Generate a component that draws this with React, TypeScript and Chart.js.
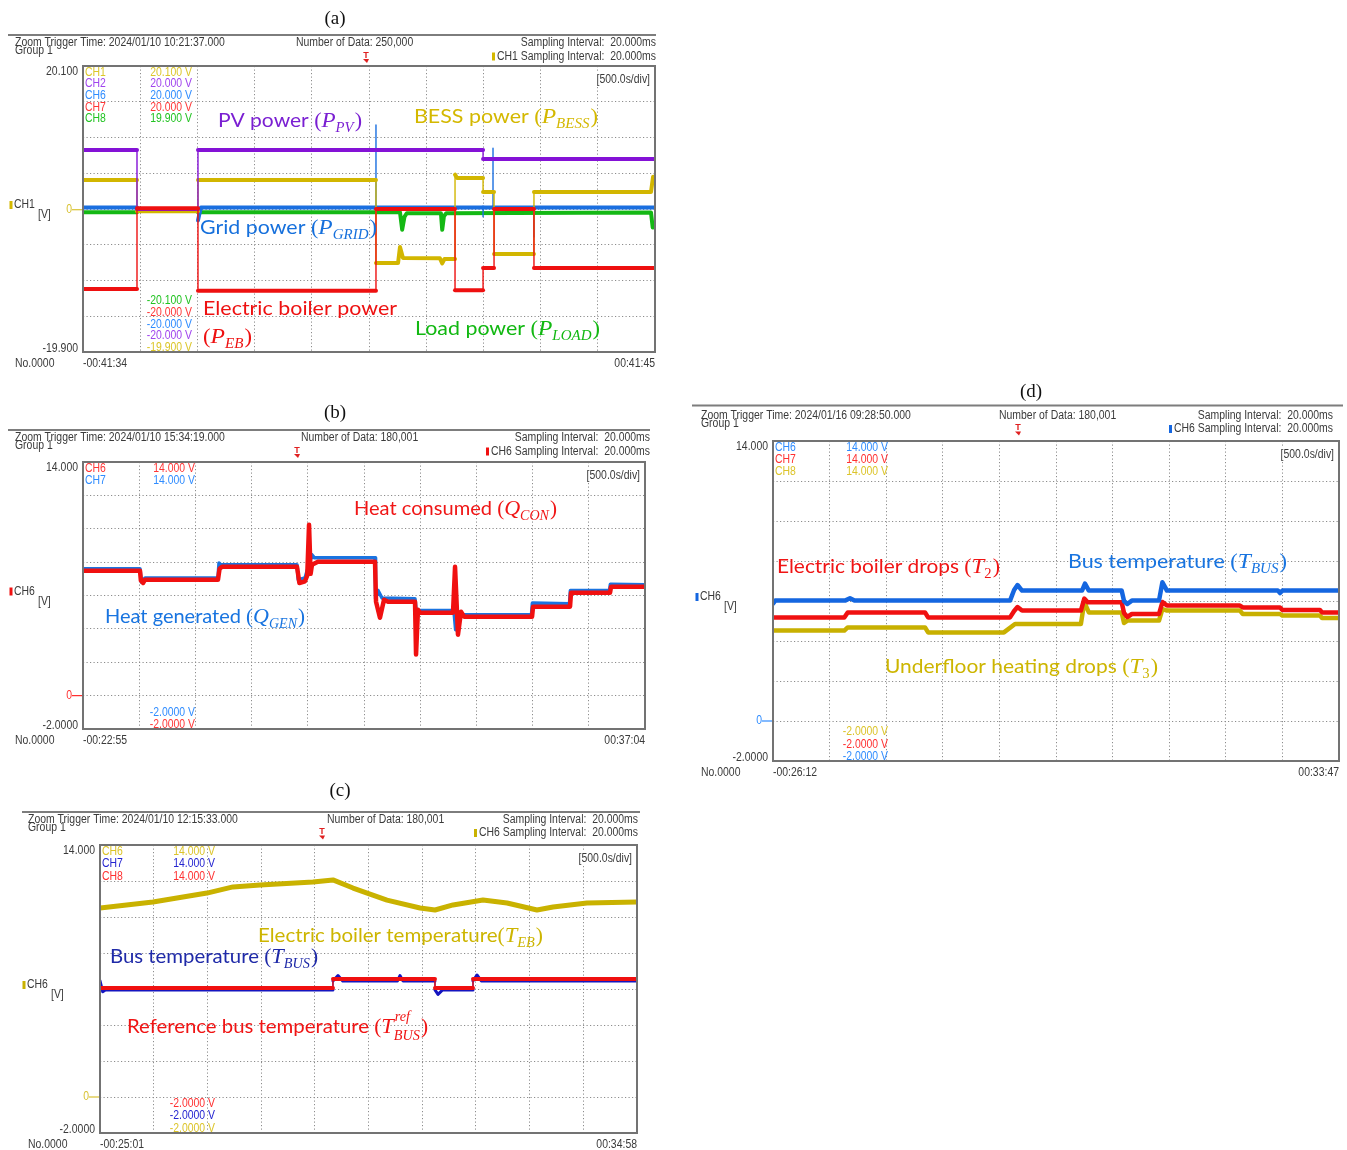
import { useEffect, useRef } from 'react';
import { Chart, registerables } from 'chart.js';

Chart.register(...registerables);

const PAGE_W = 1347;
const PAGE_H = 1150;
const DIV_SECONDS = 500;
const DIVS = 10;
const SPAN = DIV_SECONDS * DIVS;

// ---------- (a) power flows [V], time in s from the left edge ----------
const aPvTime = [0, 472, 472, 1005, 1005, 3497, 3497, 5000];
const aPvPower = [8.35, 8.35, 0.1, 0.1, 8.35, 8.35, 7.1, 7.1];

const aBessTime = [0, 472, 472, 1005, 1005, 2561, 2561, 2754, 2771, 2797, 3120, 3140, 3160, 3252, 3252, 3270, 3497, 3497, 3593, 3593, 3942, 3942, 4965, 4983, 5000];
const aBessPower = [4.16, 4.16, -0.2, -0.2, 4.16, 4.16, -7.45, -7.45, -5.2, -6.75, -6.8, -7.5, -6.9, -6.9, 4.9, 4.44, 4.44, 2.48, 2.48, -6.2, -6.2, 2.48, 2.48, 4.6, 4.6];

const aGridTime = [0, 472, 472, 1005, 1005, 1030, 1060, 2561, 2561, 2561, 3497, 3497, 3497, 3584, 3584, 3584, 3942, 3942, 3942, 5000];
const aGridPower = [0.3, 0.3, 0.05, 0.05, -1.5, 0.3, 0.3, 0.3, 11.85, 0.3, 0.3, -1.0, 0.3, 0.3, 8.6, 0.3, 0.3, -3.8, 0.3, 0.3];

const aLoadTime = [0, 472, 472, 1005, 1005, 2771, 2790, 2810, 2830, 3129, 3140, 3155, 3175, 4965, 4980, 5000];
const aLoadPower = [-0.35, -0.35, 0.0, 0.0, -0.35, -0.35, -2.8, -1.0, -0.5, -0.5, -2.8, -0.9, -0.5, -0.4, -2.5, -2.4];

const aEbTime = [0, 472, 472, 1005, 1005, 2561, 2561, 3252, 3252, 3497, 3497, 3593, 3593, 3942, 3942, 5000];
const aEbPower = [-11.1, -11.1, 0.2, 0.2, -11.35, -11.35, 0.1, 0.1, -11.25, -11.25, -8.15, -8.15, 0.1, 0.1, -8.15, -8.15];

// ---------- (b) heat balance ----------
const bConTime = [0, 507, 515, 535, 552, 1201, 1215, 1237, 1904, 1925, 1975, 1995, 2011, 2025, 2037, 2090, 2598, 2607, 2642, 2678, 2714, 2954, 2963, 2980, 2998, 3292, 3310, 3336, 3363, 3390, 3995, 4004, 4333, 4342, 4689, 4698, 5000];
const bConsumed = [7.49, 7.49, 6.9, 6.75, 6.95, 6.95, 7.6, 7.72, 7.72, 6.75, 6.85, 7.2, 10.24, 7.3, 7.84, 8.02, 8.02, 5.63, 4.67, 5.75, 5.63, 5.63, 2.46, 5.15, 4.97, 4.97, 7.72, 3.65, 5.03, 4.73, 4.73, 5.33, 5.33, 6.17, 6.17, 6.53, 6.53];

const bGenTime = [0, 507, 520, 552, 1201, 1210, 1225, 1904, 1915, 1975, 2037, 2060, 2598, 2603, 2625, 2660, 2954, 2972, 2990, 3300, 3315, 3340, 3372, 3990, 3998, 4328, 4336, 4684, 4692, 5000];
const bGenerated = [7.6, 7.6, 6.8, 7.05, 7.05, 7.95, 7.85, 7.85, 6.95, 7.05, 8.44, 8.26, 8.26, 5.8, 6.3, 5.85, 5.8, 4.67, 5.1, 5.1, 3.95, 5.0, 4.85, 4.85, 5.55, 5.5, 6.3, 6.3, 6.68, 6.65];

// ---------- (c) bus / boiler temperatures ----------
const cEbTime = [0, 493, 996, 1238, 1490, 1983, 2169, 2356, 2672, 2980, 3119, 3287, 3566, 3790, 4069, 4218, 4534, 5000];
const cEbTemp = [10.5, 10.83, 11.33, 11.67, 11.78, 11.94, 12.06, 11.61, 10.94, 10.5, 10.39, 10.67, 10.94, 10.78, 10.39, 10.56, 10.78, 10.83];

const cRefTime = [0, 2169, 2169, 3119, 3119, 3473, 3473, 5000];
const cRefTemp = [6.06, 6.06, 6.56, 6.56, 6.06, 6.06, 6.56, 6.56];

const cBusTime = [0, 0, 25, 50, 2169, 2169, 2216, 2260, 2770, 2793, 2820, 3119, 3119, 3147, 3190, 3473, 3473, 3510, 3550, 5000];
const cBusTemp = [3.9, 6.45, 5.85, 5.95, 5.95, 6.45, 6.75, 6.45, 6.45, 6.75, 6.45, 6.45, 5.95, 5.7, 5.95, 5.95, 6.45, 6.78, 6.45, 6.45];

// ---------- (d) temperature drops ----------
const dBusTime = [0, 20, 40, 636, 680, 720, 2094, 2130, 2160, 2200, 2730, 2756, 2790, 3080, 3101, 3130, 3170, 3410, 3440, 3480, 4460, 4479, 4500, 5000];
const dBusTemp = [5.87, 6.02, 6.02, 6.02, 6.14, 6.02, 6.02, 6.55, 6.8, 6.52, 6.52, 6.87, 6.52, 6.52, 6.0, 5.85, 6.02, 6.02, 6.94, 6.52, 6.52, 6.4, 6.52, 6.52];

const dT2Time = [0, 630, 660, 1343, 1370, 2094, 2130, 2160, 2200, 2720, 2750, 2780, 3080, 3101, 3130, 3170, 3410, 3440, 3480, 4125, 4150, 4479, 4500, 4832, 4850, 5000];
const dT2Temp = [5.18, 5.18, 5.43, 5.43, 5.18, 5.18, 5.5, 5.7, 5.52, 5.52, 6.12, 5.94, 5.94, 5.4, 5.2, 5.35, 5.35, 5.95, 5.77, 5.77, 5.68, 5.68, 5.55, 5.55, 5.43, 5.43];

const dT3Time = [0, 630, 660, 1343, 1370, 2040, 2138, 2160, 2720, 2750, 2790, 3080, 3101, 3130, 3170, 3410, 3440, 3480, 4125, 4150, 4479, 4500, 4832, 4850, 5000];
const dT3Temp = [4.52, 4.52, 4.68, 4.68, 4.43, 4.43, 4.85, 4.85, 4.85, 5.94, 5.43, 5.43, 4.9, 5.02, 5.02, 5.02, 5.6, 5.52, 5.52, 5.35, 5.35, 5.27, 5.27, 5.15, 5.15];

// ---------- fonts & styling ----------
const SANS = '"Liberation Sans", Arial, sans-serif';
const NOTE_FONT = 'Lato, "Noto Sans", sans-serif';
const MATH = '"Liberation Serif", "DejaVu Serif", serif';
const INK = '#3a3a3a';
const NARROW = 0.87;
const GRID = '#8c8c8c';

type RunKind = 'txt' | 'par' | 'it' | 'sub' | 'subsup';
interface Run { s: string; k: RunKind; sup?: string }
interface Note { runs: Run[]; x: number; y: number; w: number; color: string }
interface Trace { label: string; t: number[]; v: number[]; color: string; width: number }
interface Channel { name: string; color: string; top: string; bottom: string }
interface Panel {
  title: string; titleX: number; titleY: number;
  area: { l: number; t: number; r: number; b: number };
  yMin: number; yMax: number; yStep: number;
  yTopText: string; yBottomText: string; zeroColor: string;
  lineY: number; lineX0: number; lineX1: number; textX: number; textY: number;
  trigTime: string; countX: number; countText: string; trigX: number;
  sampleRight: number; sampleCh: string; sampleColor: string;
  channels: Channel[]; chStep: number; chValueRight: number;
  startTime: string; endTime: string;
  traces: Trace[]; notes: Note[];
}

function symLabel(text: string, sym: string, sub: string, sup?: string, gap = true): Run[] {
  const runs: Run[] = [];
  if (text) runs.push({ s: gap ? text + ' ' : text, k: 'txt' });
  runs.push({ s: '(', k: 'par' });
  runs.push({ s: sym, k: 'it' });
  runs.push(sup ? { s: sub, k: 'subsup', sup } : { s: sub, k: 'sub' });
  runs.push({ s: ')', k: 'par' });
  return runs;
}

const PANELS: Panel[] = [
  {
    title: '(a)', titleX: 335, titleY: 19,
    area: { l: 83, t: 66, r: 655, b: 352 },
    yMin: -19.9, yMax: 20.1, yStep: 5,
    yTopText: '20.100', yBottomText: '-19.900', zeroColor: '#d8c232',
    lineY: 35, lineX0: 8, lineX1: 656, textX: 15, textY: 42,
    trigTime: 'Zoom Trigger Time: 2024/01/10 10:21:37.000', countX: 296, countText: 'Number of Data: 250,000', trigX: 366,
    sampleRight: 656, sampleCh: 'CH1', sampleColor: '#d4b800',
    channels: [
      { name: 'CH1', color: '#dcc62a', top: '20.100 V', bottom: '-19.900 V' },
      { name: 'CH2', color: '#a044ee', top: '20.000 V', bottom: '-20.000 V' },
      { name: 'CH6', color: '#2f8cff', top: '20.000 V', bottom: '-20.000 V' },
      { name: 'CH7', color: '#ff3636', top: '20.000 V', bottom: '-20.000 V' },
      { name: 'CH8', color: '#22c322', top: '19.900 V', bottom: '-20.100 V' },
    ],
    chStep: 11.6, chValueRight: 192,
    startTime: '-00:41:34', endTime: '00:41:45',
    traces: [
      { label: 'P_EB', t: aEbTime, v: aEbPower, color: '#ee1010', width: 4 },
      { label: 'P_PV', t: aPvTime, v: aPvPower, color: '#8412d6', width: 4 },
      { label: 'P_BESS', t: aBessTime, v: aBessPower, color: '#d2b600', width: 4 },
      { label: 'P_GRID', t: aGridTime, v: aGridPower, color: '#1a6fe0', width: 4 },
      { label: 'P_LOAD', t: aLoadTime, v: aLoadPower, color: '#14b814', width: 4 },
    ],
    notes: [
      { runs: symLabel('PV power', 'P', 'PV'), x: 218, y: 127, w: 144, color: '#7a1fd2' },
      { runs: symLabel('BESS power', 'P', 'BESS'), x: 414, y: 123, w: 184, color: '#d4b800' },
      { runs: symLabel('Grid power', 'P', 'GRID'), x: 200, y: 234, w: 177, color: '#1670dc' },
      { runs: [{ s: 'Electric boiler power', k: 'txt' }], x: 203, y: 315, w: 194, color: '#ee1111' },
      { runs: symLabel('', 'P', 'EB'), x: 203, y: 343, w: 49, color: '#ee1111' },
      { runs: symLabel('Load power', 'P', 'LOAD'), x: 415, y: 335, w: 185, color: '#12b812' },
    ],
  },
  {
    title: '(b)', titleX: 335, titleY: 413,
    area: { l: 83, t: 462, r: 645, b: 729 },
    yMin: -2, yMax: 14, yStep: 2,
    yTopText: '14.000', yBottomText: '-2.0000', zeroColor: '#ff3030',
    lineY: 430, lineX0: 8, lineX1: 650, textX: 15, textY: 437,
    trigTime: 'Zoom Trigger Time: 2024/01/10 15:34:19.000', countX: 301, countText: 'Number of Data: 180,001', trigX: 297,
    sampleRight: 650, sampleCh: 'CH6', sampleColor: '#f01010',
    channels: [
      { name: 'CH6', color: '#ff3636', top: '14.000 V', bottom: '-2.0000 V' },
      { name: 'CH7', color: '#2f8cff', top: '14.000 V', bottom: '-2.0000 V' },
    ],
    chStep: 12, chValueRight: 195,
    startTime: '-00:22:55', endTime: '00:37:04',
    traces: [
      { label: 'Q_CON', t: bConTime, v: bConsumed, color: '#f01010', width: 4.5 },
      { label: 'Q_GEN', t: bGenTime, v: bGenerated, color: '#1a73e0', width: 3.5 },
    ],
    notes: [
      { runs: symLabel('Heat consumed', 'Q', 'CON'), x: 354, y: 515, w: 203, color: '#f01616' },
      { runs: symLabel('Heat generated', 'Q', 'GEN'), x: 105, y: 623, w: 200, color: '#1874e0' },
    ],
  },
  {
    title: '(c)', titleX: 340, titleY: 791,
    area: { l: 100, t: 845, r: 637, b: 1133 },
    yMin: -2, yMax: 14, yStep: 2,
    yTopText: '14.000', yBottomText: '-2.0000', zeroColor: '#d8c232',
    lineY: 812, lineX0: 22, lineX1: 640, textX: 28, textY: 818.5,
    trigTime: 'Zoom Trigger Time: 2024/01/10 12:15:33.000', countX: 327, countText: 'Number of Data: 180,001', trigX: 322,
    sampleRight: 638, sampleCh: 'CH6', sampleColor: '#c9b200',
    channels: [
      { name: 'CH6', color: '#dcc42a', top: '14.000 V', bottom: '-2.0000 V' },
      { name: 'CH7', color: '#2424d0', top: '14.000 V', bottom: '-2.0000 V' },
      { name: 'CH8', color: '#ff3030', top: '14.000 V', bottom: '-2.0000 V' },
    ],
    chStep: 12.5, chValueRight: 215,
    startTime: '-00:25:01', endTime: '00:34:58',
    traces: [
      { label: 'T_BUS_ref', t: cRefTime, v: cRefTemp, color: '#f01010', width: 4 },
      { label: 'T_BUS', t: cBusTime, v: cBusTemp, color: '#1515c0', width: 3 },
      { label: 'T_EB', t: cEbTime, v: cEbTemp, color: '#c9b200', width: 5 },
    ],
    notes: [
      { runs: symLabel('Electric boiler temperature', 'T', 'EB', undefined, false), x: 258, y: 942, w: 285, color: '#cdb500' },
      { runs: symLabel('Bus temperature', 'T', 'BUS'), x: 110, y: 963, w: 208, color: '#1f2aa8' },
      { runs: symLabel('Reference bus temperature', 'T', 'BUS', 'ref'), x: 127, y: 1033, w: 301, color: '#f01414' },
    ],
  },
  {
    title: '(d)', titleX: 1031, titleY: 392,
    area: { l: 773, t: 441, r: 1339, b: 761 },
    yMin: -2, yMax: 14, yStep: 2,
    yTopText: '14.000', yBottomText: '-2.0000', zeroColor: '#2f8cff',
    lineY: 405.5, lineX0: 692, lineX1: 1343, textX: 701, textY: 414.5,
    trigTime: 'Zoom Trigger Time: 2024/01/16 09:28:50.000', countX: 999, countText: 'Number of Data: 180,001', trigX: 1018,
    sampleRight: 1333, sampleCh: 'CH6', sampleColor: '#1466e0',
    channels: [
      { name: 'CH6', color: '#2f8cff', top: '14.000 V', bottom: '-2.0000 V' },
      { name: 'CH7', color: '#ff3030', top: '14.000 V', bottom: '-2.0000 V' },
      { name: 'CH8', color: '#dcc42a', top: '14.000 V', bottom: '-2.0000 V' },
    ],
    chStep: 12.3, chValueRight: 888,
    startTime: '-00:26:12', endTime: '00:33:47',
    traces: [
      { label: 'T_BUS', t: dBusTime, v: dBusTemp, color: '#1466e0', width: 4.5 },
      { label: 'T_2', t: dT2Time, v: dT2Temp, color: '#f01010', width: 4.5 },
      { label: 'T_3', t: dT3Time, v: dT3Temp, color: '#c8b000', width: 4.5 },
    ],
    notes: [
      { runs: symLabel('Electric boiler drops', 'T', '2'), x: 777, y: 573, w: 223, color: '#f01414' },
      { runs: symLabel('Bus temperature', 'T', 'BUS'), x: 1068, y: 568, w: 219, color: '#1874e0' },
      { runs: symLabel('Underfloor heating drops', 'T', '3'), x: 885, y: 673, w: 273, color: '#cdb500' },
    ],
  },
];

// ---------- canvas text helpers ----------
function small(
  ctx: CanvasRenderingContext2D, s: string, x: number, y: number,
  color = INK, align: CanvasTextAlign = 'left', size = 12,
): number {
  ctx.save();
  ctx.font = `${size}px ${SANS}`;
  ctx.fillStyle = color;
  ctx.textBaseline = 'middle';
  ctx.textAlign = align;
  ctx.translate(x, y + 1);
  ctx.scale(NARROW, 1);
  ctx.fillText(s, 0, 0);
  const w = ctx.measureText(s).width * NARROW;
  ctx.restore();
  return w;
}

function runFont(k: RunKind, digits: boolean): string {
  if (k === 'txt') return `20px ${NOTE_FONT}`;
  if (k === 'par') return `21px ${MATH}`;
  if (k === 'it') return `italic 22px ${MATH}`;
  return `${digits ? '' : 'italic '}14px ${MATH}`;
}

function drawNote(ctx: CanvasRenderingContext2D, n: Note) {
  const widths: number[] = [];
  let total = 0;
  for (const r of n.runs) {
    ctx.font = runFont(r.k, /^\d+$/.test(r.s));
    let w = ctx.measureText(r.s).width;
    if (r.k === 'subsup' && r.sup) w = Math.max(w, ctx.measureText(r.sup).width);
    if (r.k === 'sub' || r.k === 'subsup') w += 1;
    widths.push(w);
    total += w;
  }
  const sx = n.w / total;
  ctx.save();
  ctx.translate(n.x, n.y);
  ctx.scale(sx, 1);
  ctx.fillStyle = n.color;
  ctx.textBaseline = 'alphabetic';
  ctx.textAlign = 'left';
  let x = 0;
  n.runs.forEach((r, i) => {
    ctx.font = runFont(r.k, /^\d+$/.test(r.s));
    if (r.k === 'sub') ctx.fillText(r.s, x, 5);
    else if (r.k === 'subsup') {
      ctx.fillText(r.s, x, 7);
      if (r.sup) ctx.fillText(r.sup, x + 1, -12);
    } else ctx.fillText(r.s, x, 0);
    x += widths[i];
  });
  ctx.restore();
}

function scopeChrome(p: Panel) {
  return {
    id: 'scopeChrome',
    afterDatasetsDraw(chart: Chart) {
      const { ctx, chartArea: a } = chart;
      ctx.save();
      ctx.strokeStyle = '#737373';
      ctx.lineWidth = 2;
      ctx.strokeRect(a.left, a.top, a.right - a.left, a.bottom - a.top);
      ctx.restore();
    },
    afterDraw(chart: Chart) {
      const { ctx, chartArea: a } = chart;
      const yScale = chart.scales.y;

      // panel caption
      ctx.save();
      ctx.font = `19px ${MATH}`;
      ctx.fillStyle = '#111';
      ctx.textAlign = 'center';
      ctx.textBaseline = 'middle';
      ctx.fillText(p.title, p.titleX, p.titleY);
      ctx.restore();

      // header rule and acquisition info
      ctx.fillStyle = '#7d7d7d';
      ctx.fillRect(p.lineX0, p.lineY - 1, p.lineX1 - p.lineX0, 2);
      small(ctx, p.trigTime, p.textX, p.textY);
      small(ctx, 'Group 1', p.textX, p.textY + 8);
      small(ctx, p.countText, p.countX, p.textY);
      small(ctx, 'Sampling Interval:  20.000ms', p.sampleRight, p.textY, INK, 'right');
      const w2 = small(ctx, `${p.sampleCh} Sampling Interval:  20.000ms`, p.sampleRight, p.textY + 13.5, INK, 'right');
      ctx.fillStyle = p.sampleColor;
      ctx.fillRect(p.sampleRight - w2 - 5, p.textY + 10.5, 3, 8);

      // trigger position marker
      const ty = p.textY + 9;
      ctx.save();
      ctx.fillStyle = '#e02020';
      ctx.font = `bold 9px ${SANS}`;
      ctx.textAlign = 'center';
      ctx.textBaseline = 'top';
      ctx.fillText('T', p.trigX, ty);
      ctx.beginPath();
      ctx.moveTo(p.trigX - 3, ty + 8);
      ctx.lineTo(p.trigX + 3, ty + 8);
      ctx.lineTo(p.trigX + 1, ty + 12);
      ctx.closePath();
      ctx.fill();
      ctx.restore();

      // vertical range labels and zero marker
      small(ctx, p.yTopText, a.left - 5, a.top + 5, INK, 'right');
      small(ctx, p.yBottomText, a.left - 5, a.bottom - 4, INK, 'right');
      const z = yScale.getPixelForValue(0);
      small(ctx, '0', a.left - 11, z - 1, p.zeroColor, 'right');
      ctx.save();
      ctx.strokeStyle = p.zeroColor;
      ctx.lineWidth = 1.2;
      ctx.beginPath();
      ctx.moveTo(a.left - 11, z);
      ctx.lineTo(a.left - 1, z);
      ctx.stroke();
      ctx.restore();

      // channel ranges
      const n = p.channels.length;
      p.channels.forEach((c, i) => {
        const y = a.top + 5.5 + i * p.chStep;
        small(ctx, c.name, a.left + 2, y, c.color);
        small(ctx, c.top, p.chValueRight, y, c.color, 'right');
      });
      p.channels.slice().reverse().forEach((c, i) => {
        const y = a.bottom - 5.5 - (n - 1 - i) * p.chStep;
        small(ctx, c.bottom, p.chValueRight, y, c.color, 'right');
      });

      // active channel tag
      const mid = (a.top + a.bottom) / 2;
      ctx.fillStyle = p.sampleColor;
      ctx.fillRect(p.textX - 5.5, mid - 8, 3, 8);
      small(ctx, p.sampleCh, p.textX - 1, mid - 5);
      small(ctx, '[V]', p.textX + 23, mid + 5);

      // time window
      small(ctx, 'No.0000', p.textX, a.bottom + 11);
      small(ctx, p.startTime, a.left, a.bottom + 11);
      small(ctx, p.endTime, a.right, a.bottom + 11, INK, 'right');

      // time base box
      ctx.save();
      ctx.font = `12px ${SANS}`;
      const dw = ctx.measureText('[500.0s/div]').width * NARROW;
      ctx.restore();
      ctx.fillStyle = '#ffffff';
      ctx.fillRect(a.right - 5 - dw - 3, a.top + 5, dw + 6, 15);
      small(ctx, '[500.0s/div]', a.right - 5, a.top + 12.5, INK, 'right');

      for (const note of p.notes) drawNote(ctx, note);
    },
  };
}

function evenTicks(min: number, step: number, count: number) {
  return Array.from({ length: count + 1 }, (_, i) => ({ value: min + i * step }));
}

function buildConfig(p: Panel): any {
  const yDivs = Math.round((p.yMax - p.yMin) / p.yStep);
  const gridOpts = { color: GRID, lineWidth: 1, drawTicks: false };
  const borderOpts = { display: false, dash: [1.2, 2.3] };
  return {
    type: 'line',
    data: {
      datasets: p.traces.map((tr) => ({
        label: tr.label,
        data: tr.t.map((t, i) => ({ x: t, y: tr.v[i] })),
        borderColor: tr.color,
        borderWidth: tr.width,
        pointRadius: 0,
        tension: 0,
        fill: false,
        borderJoinStyle: 'round',
        borderCapStyle: 'round',
        segment: {
          borderWidth: (c: any) => (c.p0.parsed.x === c.p1.parsed.x ? 1.4 : undefined),
        },
      })),
    },
    options: {
      responsive: false,
      animation: false,
      events: [],
      layout: {
        padding: { left: p.area.l, top: p.area.t, right: PAGE_W - p.area.r, bottom: PAGE_H - p.area.b },
      },
      plugins: { legend: { display: false }, tooltip: { enabled: false } },
      scales: {
        x: {
          type: 'linear', min: 0, max: SPAN,
          afterBuildTicks: (s: any) => { s.ticks = evenTicks(0, DIV_SECONDS, DIVS); },
          ticks: { display: false },
          grid: gridOpts, border: borderOpts,
        },
        y: {
          type: 'linear', min: p.yMin, max: p.yMax,
          afterBuildTicks: (s: any) => { s.ticks = evenTicks(p.yMin, p.yStep, yDivs); },
          ticks: { display: false },
          grid: gridOpts, border: borderOpts,
        },
      },
    },
    plugins: [scopeChrome(p)],
  };
}

function Scope({ panel }: { panel: Panel }) {
  const ref = useRef<HTMLCanvasElement>(null);
  useEffect(() => {
    if (!ref.current) return;
    const chart = new Chart(ref.current, buildConfig(panel));
    return () => chart.destroy();
  }, [panel]);
  return (
    <canvas
      ref={ref}
      width={PAGE_W}
      height={PAGE_H}
      style={{ position: 'absolute', left: 0, top: 0, width: PAGE_W, height: PAGE_H }}
    />
  );
}

export default function App() {
  return (
    <div style={{ position: 'absolute', left: 0, top: 0, width: PAGE_W, height: PAGE_H, background: '#ffffff', overflow: 'hidden' }}>
      {PANELS.map((p) => (
        <Scope key={p.title} panel={p} />
      ))}
    </div>
  );
}
